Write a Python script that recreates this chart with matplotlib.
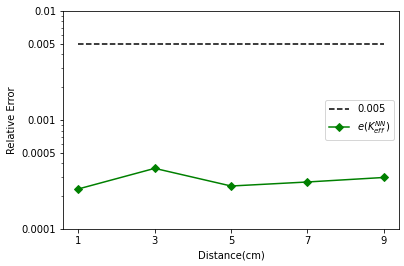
import matplotlib
matplotlib.use("Agg")
import matplotlib.pyplot as plt

distance = [1, 3, 5, 7, 9]
threshold = [0.005, 0.005, 0.005, 0.005, 0.005]
rel_error = [2.33e-4, 3.6e-4, 2.48e-4, 2.7e-4, 2.97e-4]
ytick_vals = [0.0001, 0.0005, 0.001, 0.005, 0.01]
ytick_labels = ["0.0001", "0.0005", "0.001", "0.005", "0.01"]

fig = plt.figure(figsize=(404 / 72, 266 / 72), dpi=72)
ax = fig.add_subplot(111)
fig.subplots_adjust(left=0.156, right=0.988, top=0.959, bottom=0.139)

ax.plot(distance, threshold, "k--", label="0.005")
ax.plot(distance, rel_error, color="green", marker="D", label=r"$e(K_{eff}^{NN})$")

ax.set_yscale("log")
ax.set_ylim(0.0001, 0.01)
ax.set_yticks(ytick_vals)
ax.set_yticklabels(ytick_labels)
ax.set_xticks(distance)
ax.set_xlabel("Distance(cm)")
ax.set_ylabel("Relative Error")
ax.legend(loc="center right")

fig.savefig("out.png", dpi=72)
